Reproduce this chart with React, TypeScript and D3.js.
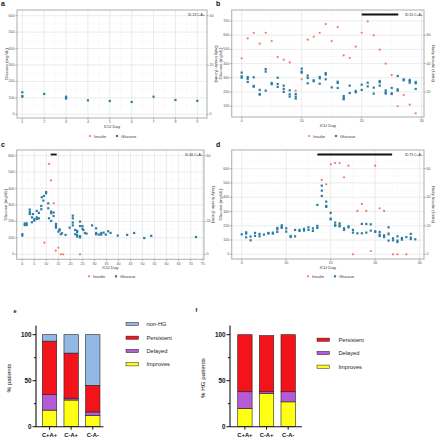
import React from "react";
import * as d3 from "d3";

// ---------- Panel a ----------
const aGlucose: [number, number][] = [
  [1, 134], [1, 110], [1, 108], [2, 124], [3, 107], [3, 101], [3, 96],
  [4, 85], [5, 81], [6, 75], [7, 107], [8, 87], [9, 82],
];
const aInsulin: [number, number][] = [];
const aDayTicks = [1, 2, 3, 4, 5, 6, 7, 8, 9];
const aGluTicks = [0, 100, 200, 300, 400, 500, 600];
const aInsTicks = [0, 20, 40];

// ---------- Panel b ----------
const bInsulin: [number, number][] = [
  [0, 43.7], [1, 57.7], [2, 61.7], [3, 54], [4, 61.7], [5, 55.9], [6, 44.6],
  [7, 42.7], [8, 40.8], [9, 20.9], [10, 28.9], [11, 56.8], [12, 58.9], [13, 61.7],
  [14, 67.8], [15, 55.9], [16, 65.7], [17, 45.8], [18, 43.9], [19, 51.9], [20, 61.7],
  [21, 69.7], [22, 59.9], [23, 49.8], [24, 39.9], [25, 31.9], [26, 9.9], [27, 17.8],
  [28, 11], [29, 4.9],
];
const bGlucose: [number, number][] = [
  [0, 336], [0, 310], [0, 300], [1, 305], [1, 291], [1, 270], [2, 303], [2, 242], [2, 237],
  [3, 214], [3, 185], [3, 181], [4, 361], [4, 343], [4, 209], [5, 263], [5, 254],
  [6, 300], [6, 256], [6, 235], [7, 244], [7, 221], [7, 200], [8, 211], [8, 183], [8, 167],
  [9, 185], [9, 167], [9, 153], [10, 364], [10, 343], [10, 336], [11, 315], [11, 298], [11, 261],
  [12, 282], [12, 275], [13, 305], [13, 296], [13, 258], [14, 333], [14, 322], [14, 289],
  [15, 232], [16, 272], [16, 263], [16, 228], [17, 171], [17, 157], [17, 148],
  [18, 244], [18, 192], [19, 207], [19, 197], [20, 251], [20, 214], [21, 265], [21, 239],
  [22, 230], [22, 188], [23, 277], [23, 268], [23, 244], [24, 211], [24, 197], [24, 188],
  [25, 228], [25, 190], [25, 185], [26, 312], [26, 218], [26, 209], [27, 289], [27, 282],
  [28, 284], [28, 277], [28, 265], [29, 270], [29, 261], [29, 221],
];
const bDayTicks = [0, 10, 20, 30];
const bGluTicks = [100, 200, 300, 400, 500, 600, 700];
const bInsTicks = [20, 40, 60];

// ---------- Panel c ----------
const cInsulin: [number, number][] = [
  [9.2, 7.1], [11.1, 55], [11.9, 45], [13.1, 31], [13.9, 2.2], [15, 4], [16, 0], [17, 0], [24, 0],
];
const cGlucose: [number, number][] = [
  [0, 122], [0, 114], [1, 187], [1, 178], [1.8, 189], [1.8, 178],
  [3.1, 272], [3.1, 258], [3.1, 245], [4, 195], [4, 225], [4.4, 245], [5, 205], [5, 215],
  [6, 225], [6, 264], [6.1, 215], [6.9, 252], [6.9, 219], [7.9, 294], [7.9, 274], [8.1, 347],
  [8.75, 327], [9, 355], [9.9, 371], [9.9, 379], [10.8, 310], [10.8, 280], [11.1, 219],
  [12, 260], [12, 250], [12, 203], [13, 254], [13, 233],
  [14, 185], [14, 172], [14, 162], [15.5, 152], [15.5, 146], [15, 138], [16, 122], [16.5, 128],
  [18, 118], [19.7, 162], [21, 235], [21, 219], [21, 193], [21, 176], [22, 148], [22, 122],
  [22.8, 142], [22.8, 134], [22.8, 116], [22.8, 108], [24, 199], [24, 172], [24, 110], [24, 103],
  [25, 172], [25, 156], [25.4, 148], [26, 130], [26.7, 126], [29, 176], [30.7, 158], [30.7, 130],
  [30.7, 122], [31.8, 120], [32.8, 130], [32.8, 120], [33.8, 132], [34.7, 120], [35.7, 140],
  [36.7, 130], [39.7, 114], [43.6, 118], [46.5, 130], [50.7, 99], [53.6, 112], [72.2, 105],
];
const cDayTicks = [0, 5, 10, 15, 20, 25, 30, 35, 40, 45, 50, 55, 60, 65, 70, 75];
const cGluTicks = [0, 100, 200, 300, 400, 500, 600];
const cInsTicks = [0, 20, 60];

// ---------- Panel d ----------
const dInsulin: [number, number][] = [
  [18, 52.1], [19, 49.1], [20, 63.1], [21, 64], [22, 64], [23, 54], [24, 62.1], [25, 0],
  [26, 30.4], [27, 35.3], [28, 30.4], [29, 2.3], [30, 62.1], [31, 32.2], [32, 30.4],
  [33, 15], [34, 0], [35, 0], [37, 0],
];
const dGlucose: [number, number][] = [
  [0, 140], [1, 154], [1, 145], [1, 119], [2, 124], [2, 98], [3, 150], [3, 129], [4, 143], [4, 126],
  [5, 138], [6, 150], [6, 145], [7, 152], [7, 145], [8, 185], [8, 175], [8, 157],
  [9, 203], [9, 192], [9, 185], [10, 182], [10, 159], [11, 129], [11, 121], [12, 171], [12, 126],
  [13, 171], [13, 164], [14, 178], [14, 166], [15, 189], [15, 171], [16, 182], [16, 164],
  [17, 346], [17, 199], [17, 185], [18, 481], [18, 446], [18, 409], [19, 369], [19, 339], [19, 332],
  [20, 290], [20, 250], [20, 245], [21, 222], [21, 203], [21, 201], [22, 217], [22, 203], [22, 196],
  [23, 182], [23, 171], [24, 196], [24, 189], [25, 171], [25, 152], [26, 147], [27, 213], [27, 147],
  [28, 213], [28, 152], [29, 210], [29, 166], [30, 161], [30, 157], [31, 157], [31, 138], [31, 128],
  [32, 133], [32, 121], [33, 189], [33, 140], [33, 96], [34, 112], [34, 98], [35, 126], [35, 96],
  [35, 86], [36, 114], [36, 103], [37, 121], [38, 143], [38, 117], [38, 107], [39, 105],
];
const dDayTicks = [0, 10, 20, 30, 40];
const dGluTicks = [0, 100, 200, 300, 400, 500, 600];
const dInsTicks = [0, 20, 40, 60];

// ---------- Panels e, f ----------
const groups = ["C+A+", "C-A+", "C-A-"];
const eImproves = [18, 29, 12];
const eDelayed = [17, 2, 4];
const ePersistent = [58, 49, 29];
const eNonHG = [7, 20, 55];
const fImproves = [20, 36, 27];
const fDelayed = [18, 2, 11];
const fPersistent = [62, 61, 62];
const barTicks = [0, 50, 100];
const barMinorTicks = [25, 75];

const INS = "#f0766f";
const GLU = "#2a7da5";
const SANS = "'Liberation Sans', Arial, sans-serif";
const colors: Record<string, string> = {
  nonHG: "#93b8e6",
  Persistent: "#f2141a",
  Delayed: "#b65bd6",
  Improves: "#ffff14",
};

type SP = {
  label: string;
  lx: number; ly: number;
  L: number; R: number; T: number; B: number;
  xa: [number, number, number, number];
  ya: [number, number, number, number];
  insFactor: number;
  dayTicks: number[];
  gluTicks: number[];
  insTicks: number[];
  glucose: [number, number][];
  insulin: [number, number][];
  bar?: [number, number];
  idText: string;
  legendY: number;
  legendX: number;
};

function Scatter(p: SP) {
  const x = d3.scaleLinear().domain([p.xa[0], p.xa[2]]).range([p.xa[1], p.xa[3]]);
  const y = d3.scaleLinear().domain([p.ya[0], p.ya[2]]).range([p.ya[1], p.ya[3]]);
  const dStep = p.dayTicks[1] - p.dayTicks[0];
  const gStep = p.gluTicks[1] - p.gluTicks[0];
  const xMinor: number[] = [];
  for (let v = p.dayTicks[0] - dStep / 2; v <= p.dayTicks[p.dayTicks.length - 1] + dStep; v += dStep) {
    const px = x(v);
    if (px > p.L && px < p.R) xMinor.push(v);
  }
  const yMinor: number[] = [];
  for (let v = p.gluTicks[0] - gStep / 2; v <= p.gluTicks[p.gluTicks.length - 1] + gStep; v += gStep) {
    const py = y(v);
    if (py > p.T && py < p.B) yMinor.push(v);
  }
  const yMajorExtra: number[] = [...p.gluTicks];
  const tick = "#555";
  const fs = 3.6;
  return (
    <g fontFamily={SANS}>
      <text x={p.lx} y={p.ly} fontSize={7} fontWeight="bold" fill="#111">{p.label}</text>
      <rect x={p.L} y={p.T} width={p.R - p.L} height={p.B - p.T} fill="#fff" />
      {xMinor.map((v, i) => (
        <line key={"xm" + i} x1={x(v)} x2={x(v)} y1={p.T} y2={p.B} stroke="#ececec" strokeWidth={0.5} strokeDasharray="1,1" />
      ))}
      {yMinor.map((v, i) => (
        <line key={"ym" + i} y1={y(v)} y2={y(v)} x1={p.L} x2={p.R} stroke="#ececec" strokeWidth={0.5} strokeDasharray="1,1" />
      ))}
      {p.dayTicks.map((v, i) => (
        <line key={"xg" + i} x1={x(v)} x2={x(v)} y1={p.T} y2={p.B} stroke="#e4e4e4" strokeWidth={0.7} />
      ))}
      {yMajorExtra.map((v, i) => (
        <line key={"yg" + i} y1={y(v)} y2={y(v)} x1={p.L} x2={p.R} stroke="#e4e4e4" strokeWidth={0.7} />
      ))}
      <rect x={p.L} y={p.T} width={p.R - p.L} height={p.B - p.T} fill="none" stroke="#b5b5b5" strokeWidth={1.1} />
      {/* left axis */}
      {p.gluTicks.map((v, i) => (
        <g key={"yl" + i}>
          <line x1={p.L - 1.8} x2={p.L} y1={y(v)} y2={y(v)} stroke={tick} strokeWidth={0.4} />
          <text x={p.L - 2.5} y={y(v)} fontSize={fs} fill="#555" textAnchor="end" dominantBaseline="central">{v}</text>
        </g>
      ))}
      {/* right axis */}
      {p.insTicks.map((v, i) => (
        <g key={"yr" + i}>
          <line x1={p.R} x2={p.R + 1.8} y1={y(v * p.insFactor)} y2={y(v * p.insFactor)} stroke={tick} strokeWidth={0.4} />
          <text x={p.R + 2.5} y={y(v * p.insFactor)} fontSize={fs} fill="#555" dominantBaseline="central">{v}</text>
        </g>
      ))}
      {/* bottom axis */}
      {p.dayTicks.map((v, i) => (
        <g key={"xl" + i}>
          <line x1={x(v)} x2={x(v)} y1={p.B} y2={p.B + 1.8} stroke={tick} strokeWidth={0.4} />
          <text x={x(v)} y={p.B + 5.2} fontSize={fs} fill="#555" textAnchor="middle">{v}</text>
        </g>
      ))}
      <text x={(p.L + p.R) / 2} y={p.B + 10} fontSize={4.3} fill="#333" textAnchor="middle">ICU Day</text>
      <text transform={`translate(${p.L - 9.5},${(p.T + p.B) / 2}) rotate(-90)`} fontSize={4.3} fill="#333" textAnchor="middle">Glucose (mg/dL)</text>
      <text transform={`translate(${p.R + 7.5},${(p.T + p.B) / 2}) rotate(90)`} fontSize={4.3} fill="#333" textAnchor="middle">Daily Insulin (Units)</text>
      {p.bar && (
        <line x1={x(p.bar[0])} x2={x(p.bar[1])} y1={p.T + 4.5} y2={p.T + 4.5} stroke="#111" strokeWidth={1.8} />
      )}
      <text x={p.R - 19} y={p.T + 4.6} fontSize={3.4} fill="#222" dominantBaseline="central">{p.idText}</text>
      {p.insulin.map((d, i) => (
        <circle key={"i" + i} cx={x(d[0])} cy={y(d[1] * p.insFactor)} r={1.1} fill={INS} />
      ))}
      {p.glucose.map((d, i) => (
        <rect key={"g" + i} x={x(d[0]) - 1.1} y={y(d[1]) - 1.1} width={2.2} height={2.2} fill={GLU} />
      ))}
      {/* legend */}
      <circle cx={p.legendX} cy={p.legendY} r={1.1} fill={INS} />
      <text x={p.legendX + 4} y={p.legendY} fontSize={4.2} fill="#333" dominantBaseline="central">Insulin</text>
      <rect x={p.legendX + 27 - 1.1} y={p.legendY - 1.1} width={2.2} height={2.2} fill={GLU} />
      <text x={p.legendX + 31} y={p.legendY} fontSize={4.2} fill="#333" dominantBaseline="central">Glucose</text>
    </g>
  );
}

type BP = {
  label: string; lx: number; ly: number;
  axisX: number; axisEnd: number;
  band: [number, number];
  keys: string[];
  names: string[];
  values: number[][];
  title: string; titleX: number;
  legendX: number; legendYs: number[]; legendTextX: number;
};

function Bars(p: BP) {
  const y = d3.scaleLinear().domain([0, 100]).range([426.7, 334.7]);
  const x = d3.scaleBand().domain(groups).range(p.band).paddingInner(0.335).paddingOuter(0.1675);
  const rows = groups.map((g, gi) => {
    const o: any = { g };
    p.keys.forEach((k, ki) => (o[k] = p.values[ki][gi]));
    return o;
  });
  const stack = d3.stack<any>().keys(p.keys)(rows);
  const top = y(110);
  return (
    <g fontFamily={SANS}>
      <text x={p.lx} y={p.ly} fontSize={5.5} fontWeight="bold" fill="#111">{p.label}</text>
      {stack.map((s) =>
        s.map((d, i) => (
          <rect key={s.key + i} x={x(groups[i])!} y={y(d[1])} width={x.bandwidth()} height={y(d[0]) - y(d[1])}
            fill={colors[s.key]} stroke="#222" strokeWidth={0.6} />
        ))
      )}
      <line x1={p.axisX} x2={p.axisX} y1={top} y2={y(0)} stroke="#111" strokeWidth={1.1} />
      <line x1={p.axisX} x2={p.axisEnd} y1={y(0)} y2={y(0)} stroke="#111" strokeWidth={1.1} />
      {barTicks.map((v) => (
        <g key={"t" + v}>
          <line x1={p.axisX - 3.5} x2={p.axisX} y1={y(v)} y2={y(v)} stroke="#111" strokeWidth={1} />
          <text x={p.axisX - 4.5} y={y(v)} fontSize={6.3} fontWeight="bold" textAnchor="end" dominantBaseline="central" fill="#111">{v}</text>
        </g>
      ))}
      {barMinorTicks.map((v) => (
        <line key={"m" + v} x1={p.axisX - 2} x2={p.axisX} y1={y(v)} y2={y(v)} stroke="#111" strokeWidth={1} />
      ))}
      {groups.map((g) => (
        <g key={g}>
          <line x1={x(g)! + x.bandwidth() / 2} x2={x(g)! + x.bandwidth() / 2} y1={y(0)} y2={y(0) + 3} stroke="#111" strokeWidth={1} />
          <text x={x(g)! + x.bandwidth() / 2} y={y(0) + 10.5} fontSize={5.8} fontWeight="bold" textAnchor="middle" fill="#111">{g}</text>
        </g>
      ))}
      <text transform={`translate(${p.titleX},378) rotate(-90)`} fontSize={6.2} textAnchor="middle" fill="#111">{p.title}</text>
      {p.keys.slice().reverse().map((k, i) => (
        <g key={"l" + k}>
          <rect x={p.legendX} y={p.legendYs[i] - 1.6} width={12.5} height={3.2} fill={colors[k]} stroke="#222" strokeWidth={0.5} />
          <text x={p.legendTextX} y={p.legendYs[i]} fontSize={5.7} fill="#222" dominantBaseline="central">
            {p.names[p.keys.length - 1 - i]}
          </text>
        </g>
      ))}
    </g>
  );
}

export default function App() {
  return (
    <svg width={435} height={440} style={{ position: "absolute", left: 0, top: 0, background: "#fff" }}>
      <rect width={435} height={440} fill="#fff" />
      <Scatter label="a" lx={1} ly={6} L={17} R={207} T={10} B={118}
        xa={[1, 22.3, 9, 197.3]} ya={[0, 114.3, 600, 15.7]} insFactor={15}
        dayTicks={aDayTicks} gluTicks={aGluTicks} insTicks={aInsTicks}
        glucose={aGlucose} insulin={aInsulin} idText="ID 13 C-A+" legendX={90} legendY={136} />
      <Scatter label="b" lx={216} ly={6} L={231.7} R={424} T={10} B={117}
        xa={[0, 241.7, 30, 421.7]} ya={[100, 106.1, 700, 21]} insFactor={10}
        dayTicks={bDayTicks} gluTicks={bGluTicks} insTicks={bInsTicks}
        glucose={bGlucose} insulin={bInsulin} bar={[20, 26.1]} idText="ID 20 C+A+" legendX={309} legendY={136} />
      <Scatter label="c" lx={1} ly={147} L={16.7} R={204} T={150} B={259.3}
        xa={[0, 22.3, 75, 202.7]} ya={[0, 254.3, 600, 155.7]} insFactor={10}
        dayTicks={cDayTicks} gluTicks={cGluTicks} insTicks={cInsTicks}
        glucose={cGlucose} insulin={cInsulin} bar={[11.8, 14.3]} idText="ID 46 C+A+" legendX={89} legendY={276.3} />
      <Scatter label="d" lx={216} ly={147} L={231.7} R={424} T={150} B={259}
        xa={[0, 241.7, 40, 419.7]} ya={[0, 254.3, 600, 168.7]} insFactor={10}
        dayTicks={dDayTicks} gluTicks={dGluTicks} insTicks={dInsTicks}
        glucose={dGlucose} insulin={dInsulin} bar={[17, 33.8]} idText="ID 75 C+A+" legendX={308} legendY={276.3} />
      <Bars label="e" lx={13.5} ly={313} axisX={36} axisEnd={103.5} band={[38.7, 103.6]}
        keys={["Improves", "Delayed", "Persistent", "nonHG"]}
        names={["Improves", "Delayed", "Persistent", "non-HG"]}
        values={[eImproves, eDelayed, ePersistent, eNonHG]}
        title="% patients" titleX={11} legendX={126} legendYs={[324, 337.7, 351, 364.3]} legendTextX={146.5} />
      <Bars label="f" lx={195.5} ly={312} axisX={230} axisEnd={302} band={[234.1, 299]}
        keys={["Improves", "Delayed", "Persistent"]}
        names={["Improves", "Delayed", "Persistent"]}
        values={[fImproves, fDelayed, fPersistent]}
        title="% HG patients" titleX={205} legendX={317} legendYs={[339.7, 353, 366.7]} legendTextX={338.5} />
    </svg>
  );
}
